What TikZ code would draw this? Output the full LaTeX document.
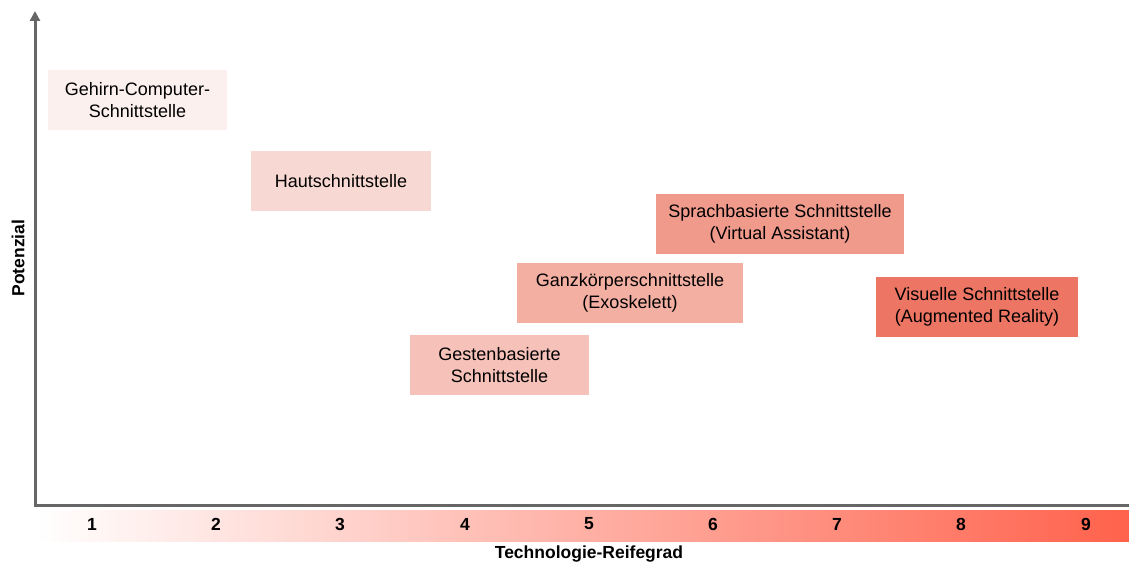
\documentclass[tikz,border=0pt]{standalone}
\usepackage{fontspec}
\setmainfont{Liberation Sans}
\usetikzlibrary{arrows.meta,positioning}
\definecolor{axisgray}{RGB}{102,102,102}
\definecolor{trlred}{RGB}{255,98,76}
\definecolor{ifaceA}{RGB}{252,240,239}
\definecolor{ifaceB}{RGB}{248,216,211}
\definecolor{ifaceC}{RGB}{245,193,185}
\definecolor{ifaceD}{RGB}{243,175,162}
\definecolor{ifaceE}{RGB}{240,154,140}
\definecolor{ifaceF}{RGB}{237,117,99}

\begin{document}
\begin{tikzpicture}[x=1pt, y=-1pt,
    iface/.style={rectangle, minimum width=#1, minimum height=60pt, align=center,
      inner sep=0pt, font=\fontsize{18}{22}\selectfont},
    trl/.style={font=\fontsize{17.5}{20}\selectfont\bfseries}]
    \useasboundingbox (0,0) rectangle (1129,564);
    % scale bar under the x axis
    \shade[left color=white, right color=trlred] (35,510) rectangle (1129,541);
    % axes
    \coordinate (origin) at (35,505);
    \coordinate (ytop) at (35,11);
    \coordinate (xend) at (1129,505);
    \draw[axisgray, line width=3pt, -{Triangle[length=10pt, width=10pt]}] (origin) -- (ytop);
    \draw[axisgray, line width=3pt] (33.5,505) -- (xend);
    % readiness levels 1 to 9
    \foreach \n/\x in {1/92, 2/216, 3/340, 4/465, 5/589, 6/713, 7/837, 8/961, 9/1086} {
      \node[trl] (trl\n) at (\x, 524) {\n};
    }
    \node[trl] (xlabel) at (589, 554) {Technologie-Reifegrad};
    \node[trl, rotate=90] (ylabel) at (18, 258) {Potenzial};
    % interfaces
    \node[iface=179pt, fill=ifaceA] (brain) at (137.5, 100) {Gehirn-Computer-\\Schnittstelle};
    \node[iface=180pt, fill=ifaceB] (skin) at (341, 181) {Hautschnittstelle};
    \node[iface=248pt, fill=ifaceE] (speech) at (780, 224) {Sprachbasierte Schnittstelle\\(Virtual Assistant)};
    \node[iface=226pt, fill=ifaceD] (body) at (630, 293) {Ganzkörperschnittstelle\\(Exoskelett)};
    \node[iface=202pt, fill=ifaceF] (visual) at (977, 307) {Visuelle Schnittstelle\\(Augmented Reality)};
    \node[iface=179pt, fill=ifaceC] (gesture) at (499.5, 365) {Gestenbasierte\\Schnittstelle};
\end{tikzpicture}
\end{document}
